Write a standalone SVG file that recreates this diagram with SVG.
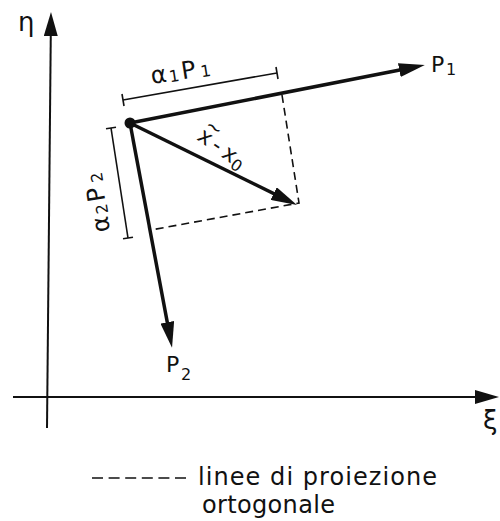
<svg xmlns="http://www.w3.org/2000/svg" width="500" height="521" viewBox="0 0 500 521">
<style>
text { font-family: "DejaVu Sans", "Liberation Sans", sans-serif; fill: #111; }
.lbl { font-size: 24px; }
.sub { font-size: 16px; }
.axis { stroke: #111; stroke-width: 2; fill: none; }
.vec { stroke: #111; stroke-width: 3.5; fill: none; }
.dim { stroke: #111; stroke-width: 1.6; fill: none; }
.proj { stroke: #111; stroke-width: 1.6; fill: none; stroke-dasharray: 8 5; }
</style>
<defs>
<marker id="ah" markerUnits="userSpaceOnUse" markerWidth="26" markerHeight="14" viewBox="0 0 26 14" refX="16" refY="7" orient="auto">
<path d="M0,0 L26,7 L0,14 z" fill="#111"/>
</marker>
<marker id="ax" markerUnits="userSpaceOnUse" markerWidth="24" markerHeight="14" viewBox="0 0 24 14" refX="14" refY="7" orient="auto">
<path d="M0,0 L24,7 L0,14 z" fill="#111"/>
</marker>
</defs>
<rect width="500" height="521" fill="#fff"/>

<g id="axes">
<line class="axis" x1="47" y1="428" x2="50.9" y2="22" marker-end="url(#ax)"/>
<line class="axis" x1="13" y1="397" x2="489" y2="397" marker-end="url(#ax)"/>
<text x="18" y="31" style="font-size:26px">η</text>
<text x="483" y="429" style="font-size:26px">ξ</text>
</g>

<g id="connectors">
<line id="vec-p1" class="vec" x1="130" y1="123" x2="415" y2="67" marker-end="url(#ah)"/>
<line id="vec-p2" class="vec" x1="130" y1="123" x2="170.2" y2="338" marker-end="url(#ah)"/>
<line id="vec-x" class="vec" x1="130" y1="123" x2="288" y2="200.6" marker-end="url(#ah)"/>
<path id="proj" class="proj" d="M282,95 L299,203 L151,230"/>
</g>

<g id="origin">
<circle cx="130" cy="123" r="5.5" fill="#111"/>
</g>

<g id="dim-a1p1">
<line class="dim" x1="123" y1="100" x2="277" y2="73"/>
<line class="dim" x1="122" y1="94" x2="124" y2="106"/>
<line class="dim" x1="276" y1="67" x2="278" y2="79"/>
<text class="lbl" transform="translate(152,84) rotate(-9)"><tspan x="0" y="0">α</tspan><tspan class="sub" x="18" y="1">1</tspan><tspan x="31" y="0">P</tspan><tspan class="sub" x="50" y="1">1</tspan></text>
</g>

<g id="dim-a2p2">
<line class="dim" x1="111" y1="128" x2="128" y2="238"/>
<line class="dim" x1="106" y1="128.8" x2="116" y2="127.2"/>
<line class="dim" x1="123" y1="238.8" x2="133" y2="237.2"/>
<text class="lbl" transform="translate(110,231) rotate(-99)"><tspan x="0" y="0">α</tspan><tspan class="sub" x="18" y="1">2</tspan><tspan x="31" y="0">P</tspan><tspan class="sub" x="50" y="1">2</tspan></text>
</g>

<g id="label-x">
<text class="lbl" style="font-size:22px" transform="translate(196,139) rotate(35)"><tspan x="0" y="0">x</tspan><tspan x="17" y="0">-</tspan><tspan x="30" y="0">x</tspan><tspan class="sub" x="43" y="4">0</tspan></text>
<text style="font-size:20px" transform="translate(196,139) rotate(35)" x="0" y="-13">~</text>
</g>

<g id="label-p1">
<text class="lbl" x="431" y="72" style="font-size:22px">P<tspan class="sub" x="446" y="75">1</tspan></text>
</g>

<g id="label-p2">
<text class="lbl" x="166" y="372" style="font-size:22px">P<tspan class="sub" x="181" y="380">2</tspan></text>
</g>

<g id="legend">
<line class="proj" x1="92" y1="478" x2="186" y2="478" style="stroke-dasharray:11 5.6"/>
<text class="lbl" x="198" y="485" textLength="239" lengthAdjust="spacing">linee di proiezione</text>
<text class="lbl" x="202" y="513" textLength="133" lengthAdjust="spacing">ortogonale</text>
</g>
</svg>
